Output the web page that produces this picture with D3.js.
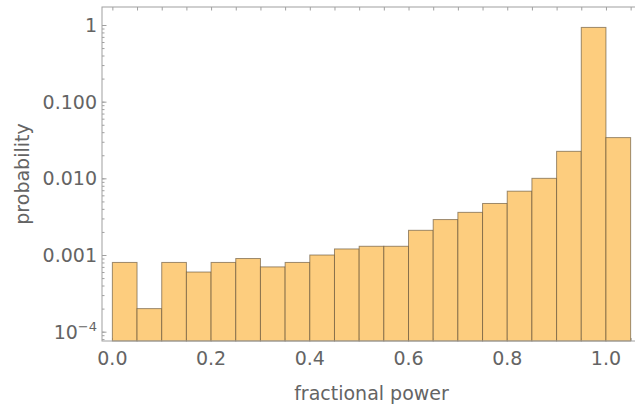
<!DOCTYPE html>
<html>
<head>
<meta charset="utf-8">
<script src="https://cdn.jsdelivr.net/npm/d3@7"></script>
<style>
  html, body { margin: 0; padding: 0; background: #fff; }
  text { font-family: "DejaVu Sans", "Liberation Sans", sans-serif; fill: #646464; }
</style>
</head>
<body>
<div id="chart"></div>
<script>
//histogram data
const binStarts = [0.0, 0.05, 0.1, 0.15, 0.2, 0.25, 0.3, 0.35, 0.4, 0.45, 0.5,
  0.55, 0.6, 0.65, 0.7, 0.75, 0.8, 0.85, 0.9, 0.95, 1.0];
const binWidth = 0.05;
const probabilities = [0.0008, 0.0002, 0.0008, 0.0006, 0.0008, 0.0009, 0.0007,
  0.0008, 0.001, 0.0012, 0.0013, 0.0013, 0.0021, 0.0029, 0.0036, 0.0047,
  0.0068, 0.01, 0.0225, 0.93, 0.034];

//tick labels
const xTickValues = [0, 0.2, 0.4, 0.6, 0.8, 1.0];
const xTickLabels = ["0.0", "0.2", "0.4", "0.6", "0.8", "1.0"];
const yTickValues = [1e-4, 1e-3, 1e-2, 0.1, 1];
const yTickLabels = ["10^-4", "0.001", "0.010", "0.100", "1"];

const width = 635;
const height = 408;
const plot = { left: 102, right: 641, top: 7, bottom: 341 };

const svg = d3
  .select("#chart")
  .append("svg")
  .attr("width", width)
  .attr("height", height);

const x = d3.scaleLinear().domain([-0.021, 1.071]).range([plot.left, plot.right]);
const y = d3.scaleLog().domain([7.56e-5, 1.717]).range([plot.bottom, plot.top]);

const frameColor = "#a0a0a0";

//minor ticks
const xMinor = d3.range(0, 22).map((i) => i * 0.05);
const yMinor = [];
[-5, -4, -3, -2, -1, 0].forEach((e) => {
  for (let k = 1; k <= 9; k++) {
    const v = k * Math.pow(10, e);
    if (v >= y.domain()[0] && v <= y.domain()[1]) yMinor.push(v);
  }
});

//bottom axis ticks (behind bars)
const gBottom = svg
  .append("g")
  .attr("transform", `translate(0, ${plot.bottom})`)
  .call(d3.axisBottom(x).tickValues(xMinor).tickSize(-3).tickFormat(""));
gBottom.select(".domain").remove();
gBottom.selectAll("line").attr("stroke", frameColor);

//bars
svg
  .selectAll(".bar")
  .data(binStarts.map((s, i) => ({ start: s, value: probabilities[i] })))
  .enter()
  .append("rect")
  .attr("class", "bar")
  .attr("x", (d) => x(d.start))
  .attr("y", (d) => y(d.value))
  .attr("width", (d) => x(d.start + binWidth) - x(d.start))
  .attr("height", (d) => plot.bottom - y(d.value))
  .attr("fill", "#fdcd7e")
  .attr("stroke", "#5a4a30")
  .attr("stroke-opacity", 0.6)
  .attr("stroke-width", 1);

//top axis ticks
const gTop = svg
  .append("g")
  .attr("transform", `translate(0, ${plot.top})`)
  .call(d3.axisTop(x).tickValues(xMinor).tickSize(-3.5).tickFormat(""));
gTop.select(".domain").remove();
gTop.selectAll("line").attr("stroke", frameColor);

//left axis ticks
const gLeftMinor = svg
  .append("g")
  .attr("transform", `translate(${plot.left}, 0)`)
  .call(d3.axisLeft(y).tickValues(yMinor).tickSize(-2.5).tickFormat(""));
gLeftMinor.select(".domain").remove();
gLeftMinor.selectAll("line").attr("stroke", frameColor);

const gLeft = svg
  .append("g")
  .attr("transform", `translate(${plot.left}, 0)`)
  .call(d3.axisLeft(y).tickValues(yTickValues).tickSize(-4.5).tickFormat(""));
gLeft.select(".domain").remove();
gLeft.selectAll("line").attr("stroke", frameColor);

//frame
svg
  .append("rect")
  .attr("x", plot.left)
  .attr("y", plot.top)
  .attr("width", plot.right - plot.left)
  .attr("height", plot.bottom - plot.top)
  .attr("fill", "none")
  .attr("stroke", frameColor)
  .attr("stroke-width", 1);

//x tick labels
svg
  .selectAll(".xlabel")
  .data(xTickValues)
  .enter()
  .append("text")
  .attr("class", "xlabel")
  .attr("x", (d) => x(d))
  .attr("y", 365)
  .attr("text-anchor", "middle")
  .attr("font-size", 19)
  .text((d, i) => xTickLabels[i]);

//y tick labels
const yl = svg
  .selectAll(".ylabel")
  .data(yTickValues)
  .enter()
  .append("text")
  .attr("class", "ylabel")
  .attr("x", plot.left - 5)
  .attr("y", (d) => y(d) + 7)
  .attr("text-anchor", "end")
  .attr("font-size", 19);
yl.each(function (d, i) {
  const lab = yTickLabels[i];
  const t = d3.select(this);
  if (lab.includes("^")) {
    const [base, exp] = lab.split("^");
    t.append("tspan").text(base);
    t.append("tspan")
      .attr("font-size", 13)
      .attr("dy", -8)
      .text(exp.replace("-", "\u2212"));
  } else {
    t.text(lab);
  }
});

//axis titles
svg
  .append("text")
  .attr("x", (plot.left + plot.right) / 2)
  .attr("y", 400)
  .attr("text-anchor", "middle")
  .attr("font-size", 19)
  .text("fractional power");

svg
  .append("text")
  .attr("transform", `translate(29, ${(plot.top + plot.bottom) / 2}) rotate(-90)`)
  .attr("text-anchor", "middle")
  .attr("font-size", 19)
  .text("probability");
</script>
</body>
</html>
